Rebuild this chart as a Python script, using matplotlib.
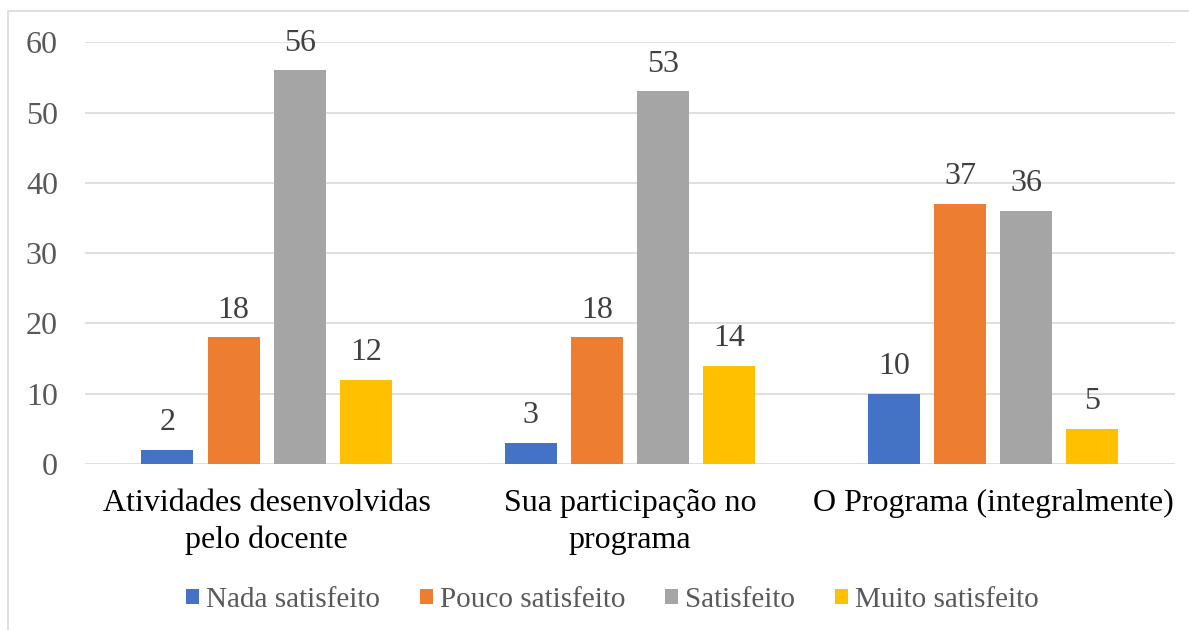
import numpy as np
import matplotlib.pyplot as plt
from matplotlib.patches import Rectangle

plt.rcParams['font.family'] = ['Liberation Serif', 'DejaVu Serif']

categories = ['Atividades desenvolvidas\npelo docente', 'Sua participação no\nprograma',
              'O Programa (integralmente)']
series_names = ['Nada satisfeito', 'Pouco satisfeito', 'Satisfeito', 'Muito satisfeito']
nada = [2, 3, 10]
pouco = [18, 18, 37]
satisfeito = [56, 53, 36]
muito = [12, 14, 5]
colors = ['#4472C4', '#ED7D31', '#A5A5A5', '#FFC000']
yticks = [0, 10, 20, 30, 40, 50, 60]

fig = plt.figure(figsize=(11.89, 6.30), dpi=100)
ax = fig.add_axes([0.0715, 0.2635, 0.9165, 0.6695])

# light frame round the chart area
fig.patches.append(Rectangle((8 / 1189, -0.01), 1.02, 1 - 11 / 630 + 0.01,
                             transform=fig.transFigure, fill=False,
                             edgecolor='#D9D9D9', linewidth=1.2))

x = np.arange(len(categories))
step = 0.182
width = 0.143
handles = []
for i, (name, vals) in enumerate(zip(series_names, [nada, pouco, satisfeito, muito])):
    pos = x + (i - 1.5) * step
    b = ax.bar(pos, vals, width, color=colors[i], label=name, zorder=3)
    handles.append(b)
    for p, v in zip(pos, vals):
        ax.annotate(str(v), (p, v), xytext=(0, 9), textcoords='offset points',
                    ha='center', va='bottom', fontsize=23, color='#404040')

ax.set_xlim(-0.5, 2.5)
ax.set_ylim(0, 60)
ax.set_yticks(yticks)
ax.set_yticklabels([str(t) for t in yticks], fontsize=23, color='#595959')
ax.set_xticks(x)
ax.set_xticklabels(categories, fontsize=23, color='black', linespacing=1.35)
ax.tick_params(axis='both', length=0)
ax.tick_params(axis='y', pad=19.5)
ax.tick_params(axis='x', pad=18)
ax.grid(axis='y', color='#D9D9D9', linewidth=1.2, zorder=0)
for s in ax.spines.values():
    s.set_visible(False)

leg = fig.legend(handles=handles, labels=series_names, loc='center',
                 bbox_to_anchor=(0.515, 0.048), ncol=4, frameon=False,
                 fontsize=21, handlelength=0.45, handleheight=0.45,
                 handletextpad=0.25, columnspacing=1.35)
for t in leg.get_texts():
    t.set_color('#595959')

plt.savefig('out.png', dpi=100)
